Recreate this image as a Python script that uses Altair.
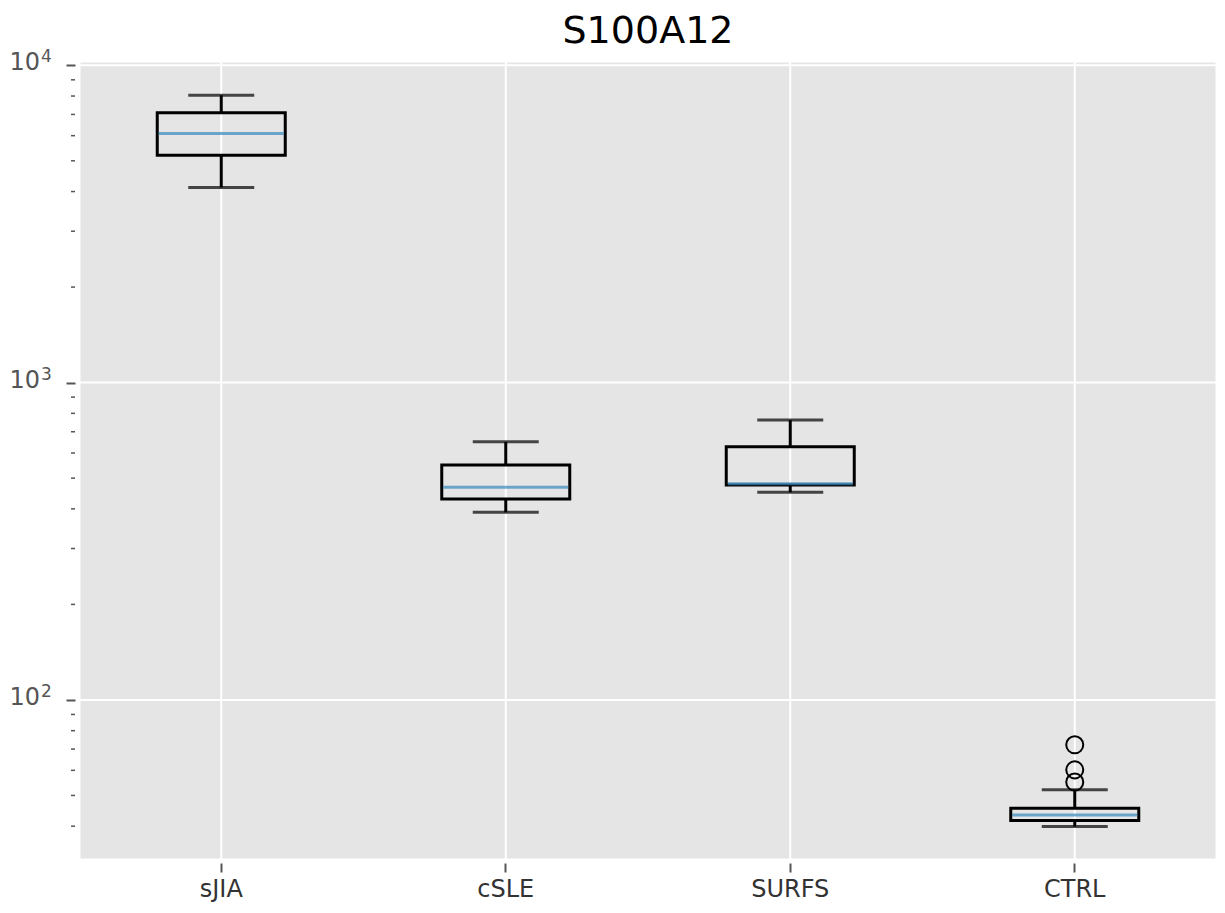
import altair as alt
import pandas as pd

# ---- data ----
groups = ["sJIA", "cSLE", "SURFS", "CTRL"]
whisker_low = [4120, 390, 451, 39.9]
q1 = [5206, 430, 476, 41.7]
median = [6095, 468, 480, 43.4]
q3 = [7080, 550, 628, 45.6]
whisker_high = [8045, 651, 762, 52.1]
outlier_group = ["CTRL", "CTRL", "CTRL"]
outlier_value = [55.1, 60.2, 72.2]
major_ticks = [100, 1000, 10000]
major_base = ["10", "10", "10"]
major_exp = ["2", "3", "4"]
minor_ticks = [40, 50, 60, 70, 80, 90,
               200, 300, 400, 500, 600, 700, 800, 900,
               2000, 3000, 4000, 5000, 6000, 7000, 8000, 9000]
y_domain = [31.3, 10316]

W, H = 1138, 799
BOX_W = 128.0
CAP_W = 66.0
LW = 3

df = pd.DataFrame({"group": groups, "wlo": whisker_low, "q1": q1,
                   "med": median, "q3": q3, "whi": whisker_high})
df_out = pd.DataFrame({"group": outlier_group, "v": outlier_value})
df_major = pd.DataFrame({"v": major_ticks, "b": major_base, "e": major_exp})
df_minor = pd.DataFrame({"v": minor_ticks})
df_groups = pd.DataFrame({"group": groups})

y_scale = alt.Scale(type="log", domain=y_domain, nice=False)
x_scale = alt.Scale(domain=groups, paddingInner=0, paddingOuter=0)

x_axis = alt.Axis(title=None, labelAngle=0, labelFont="DejaVu Sans", labelFontSize=24,
                  labelColor="#333333", tickColor="#555555", tickSize=9, tickWidth=2,
                  offset=3, domain=False, grid=False, labelPadding=5)
y_axis = alt.Axis(title=None, values=major_ticks, labels=False,
                  tickColor="#555555", tickSize=9, tickWidth=2, offset=4,
                  domain=False, grid=False)

X = alt.X("group:N", sort=groups, scale=x_scale, axis=x_axis)


def Y(field):
    return alt.Y(field, scale=y_scale, axis=y_axis)


grid_h = alt.Chart(df_major).mark_rule(color="white", strokeWidth=2).encode(
    y=Y("v:Q"), x=alt.value(0), x2=alt.value(W))
grid_v = alt.Chart(df_groups).mark_rule(color="white", strokeWidth=2).encode(
    x=X, y=alt.value(0), y2=alt.value(H))
minor = alt.Chart(df_minor).mark_rule(color="#555555", strokeWidth=1.5).encode(
    y=Y("v:Q"), x=alt.value(-8), x2=alt.value(-4))
lab_base = alt.Chart(df_major).mark_text(
    align="right", baseline="alphabetic", dy=5, font="DejaVu Sans", fontSize=24,
    color="#555555").encode(y=Y("v:Q"), x=alt.value(-39), text="b:N")
lab_exp = alt.Chart(df_major).mark_text(
    align="left", baseline="alphabetic", dy=-3, font="DejaVu Sans", fontSize=17,
    color="#555555").encode(y=Y("v:Q"), x=alt.value(-38), text="e:N")

base = alt.Chart(df)
whisk_up = base.mark_rule(color="black", strokeWidth=LW).encode(
    x=X, y=Y("q3:Q"), y2="whi:Q")
whisk_dn = base.mark_rule(color="black", strokeWidth=LW).encode(
    x=X, y=Y("wlo:Q"), y2="q1:Q")
cap_hi = base.mark_tick(color="black", size=CAP_W, thickness=LW, orient="horizontal").encode(
    x=X, y=Y("whi:Q"))
cap_lo = base.mark_tick(color="black", size=CAP_W, thickness=LW, orient="horizontal").encode(
    x=X, y=Y("wlo:Q"))
box = base.mark_bar(fillOpacity=0, stroke="black", strokeWidth=LW, size=BOX_W).encode(
    x=X, y=Y("q1:Q"), y2="q3:Q")
med = base.mark_tick(color="#348ABD", size=BOX_W - LW, thickness=LW, orient="horizontal").encode(
    x=X, y=Y("med:Q"))
fliers = alt.Chart(df_out).mark_point(shape="circle", filled=False, color="black",
                                      size=290, strokeWidth=2, opacity=1).encode(
    x=X, y=Y("v:Q"))

chart = alt.layer(grid_h, grid_v, minor, lab_base, lab_exp, whisk_up, whisk_dn,
                  cap_hi, cap_lo, box, med, fliers).properties(
    width=W, height=H,
    autosize=alt.AutoSizeParams(type="none"),
    padding={"left": 71, "top": 53, "right": 0, "bottom": 45},
    background="white",
    title=alt.TitleParams("S100A12", font="DejaVu Sans", fontSize=38, fontWeight="normal",
                          color="black", anchor="middle", frame="group", offset=6, dy=9),
).configure_view(fill="#E5E5E5", stroke="white", strokeWidth=LW)

chart.save("out.html", embed_options={"renderer": "svg", "actions": False})
